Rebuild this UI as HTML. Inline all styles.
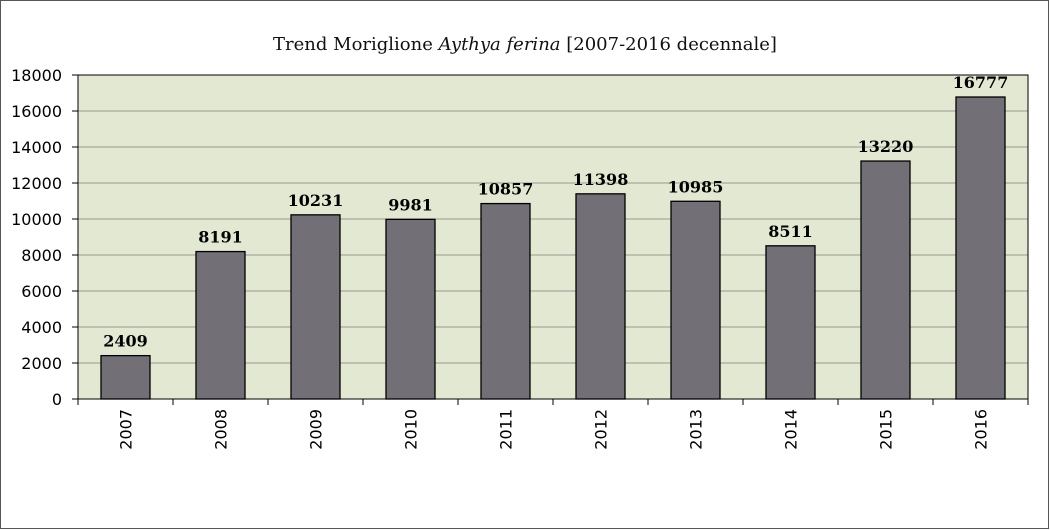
<!DOCTYPE html>
<html><head><meta charset="utf-8"><style>
html,body{margin:0;padding:0;background:#fff;}
svg{display:block;}
</style></head><body>
<svg id="chart" width="1050" height="530" xmlns="http://www.w3.org/2000/svg">
<rect x="0.5" y="0.5" width="1048" height="528" fill="#fff" stroke="#555" stroke-width="1"/>
<text x="525" y="50" text-anchor="middle" font-family="'DejaVu Serif','Liberation Serif',serif" font-size="18" fill="#111">Trend Moriglione <tspan font-style="italic">Aythya ferina</tspan> [2007-2016 decennale]</text>
<g id="plot"></g>
</svg>
<script>
const categories = ["2007","2008","2009","2010","2011","2012","2013","2014","2015","2016"];
const values = [2409,8191,10231,9981,10857,11398,10985,8511,13220,16777];
const yTicks = [0,2000,4000,6000,8000,10000,12000,14000,16000,18000];
const NS="http://www.w3.org/2000/svg";
const L=78,R=1028,T=75,B=399,YMAX=18000;
const band=(R-L)/categories.length;
const y=v=>B-(v/YMAX)*(B-T);
const x=i=>L+band*i;
const g=document.getElementById('plot');
function mk(tag,attrs){const e=document.createElementNS(NS,tag);for(const k in attrs)e.setAttribute(k,attrs[k]);g.appendChild(e);return e;}
const bg=mk('rect',{x:L,y:T,width:R-L,height:B-T,fill:'#e2e8d2'});


yTicks.forEach(t=>{
  if(t>0&&t<YMAX){const gl=mk('line',{x1:L,x2:R,y1:y(t),y2:y(t),stroke:'#9a9a90','stroke-width':1});
  
  }
  const tk=mk('line',{x1:L-6,x2:L,y1:y(t),y2:y(t),stroke:'#000'});
  
  
  const tl=mk('text',{x:L-16,y:y(t)+6,'text-anchor':'end','font-family':"'DejaVu Sans','Liberation Sans',sans-serif",'font-size':16,fill:'#000'});
  tl.textContent=t;
  
  
});
const fr=mk('rect',{x:L,y:T,width:R-L,height:B-T,fill:'none',stroke:'#000','stroke-width':1});


for(let i=0;i<=categories.length;i++){
  const tk=mk('line',{x1:x(i),x2:x(i),y1:B,y2:B+6,stroke:'#000'});
  
  
}
categories.forEach((c,i)=>{
  const cx=x(i)+band/2, bw=49;
  const b=mk('rect',{x:cx-bw/2,y:y(values[i]),width:bw,height:B-y(values[i]),fill:'#727076',stroke:'#000','stroke-width':1.3});
  
  
  const v=mk('text',{x:cx,y:y(values[i])-9,'text-anchor':'middle','font-family':"'DejaVu Serif','Liberation Serif',serif",'font-weight':'bold','font-size':16,fill:'#000'});
  v.textContent=values[i];
  
  
  const xl=mk('text',{x:0,y:0,'text-anchor':'end','font-family':"'DejaVu Sans','Liberation Sans',sans-serif",'font-size':16,fill:'#000',transform:`translate(${cx+6},${B+10}) rotate(-90)`});
  xl.textContent=c;
  
  
});
</script>
</body></html>
